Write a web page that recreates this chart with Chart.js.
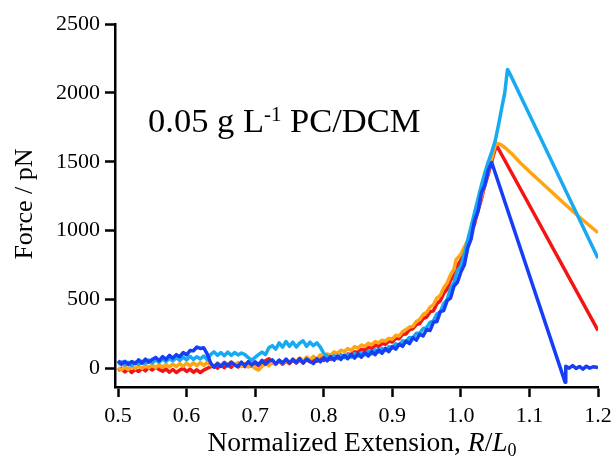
<!DOCTYPE html>
<html>
<head>
<meta charset="utf-8">
<script src="https://cdn.jsdelivr.net/npm/chart.js@4.4.0/dist/chart.umd.min.js"></script>
<style>
  body { margin: 0; background: #fff; }
  #chart { display: block; }
</style>
</head>
<body>
<canvas id="chart" width="615" height="462"></canvas>
<script>
// tick labels
const xTicks = [0.5, 0.6, 0.7, 0.8, 0.9, 1.0, 1.1, 1.2]
const yTicks = [0, 500, 1000, 1500, 2000, 2500]

// dark blue curve
const blueX = [0.500, 0.505, 0.510, 0.515, 0.520, 0.525, 0.530, 0.535, 0.540, 0.545, 0.550, 0.555, 0.560, 0.565, 0.570, 0.575, 0.580, 0.585, 0.590, 0.595,
  0.600, 0.605, 0.610, 0.615, 0.620, 0.625, 0.630, 0.635, 0.640, 0.645, 0.650, 0.655, 0.660, 0.665, 0.670, 0.675, 0.680, 0.685, 0.690, 0.695,
  0.700, 0.705, 0.710, 0.715, 0.720, 0.725, 0.730, 0.735, 0.740, 0.745, 0.750, 0.755, 0.760, 0.765, 0.770, 0.775, 0.780, 0.785, 0.790, 0.795,
  0.800, 0.805, 0.810, 0.815, 0.820, 0.825, 0.830, 0.835, 0.840, 0.845, 0.850, 0.855, 0.860, 0.865, 0.870, 0.875, 0.880, 0.885, 0.890, 0.895,
  0.900, 0.905, 0.910, 0.915, 0.920, 0.925, 0.930, 0.935, 0.940, 0.945, 0.950, 0.955, 0.960, 0.965, 0.970, 0.975, 0.980, 0.985, 0.990, 0.995,
  1.000, 1.005, 1.010, 1.015, 1.020, 1.025, 1.030, 1.035, 1.040, 1.045,
  1.152, 1.153, 1.158, 1.163, 1.168, 1.173, 1.178, 1.183, 1.188, 1.193, 1.200]
const blueY = [55, 30, 52, 28, 50, 35, 62, 38, 68, 45, 65, 80, 55, 85, 65, 95, 75, 100, 85, 115,
  98, 130, 128, 155, 145, 150, 105, 40, 8, 35, 15, 42, 20, 45, 25, 15, 45, 20, 50, 25,
  48, 28, 58, 30, 52, 62, 32, 60, 38, 68, 40, 65, 42, 72, 38, 68, 50, 35, 70, 48,
  78, 55, 85, 60, 90, 65, 95, 70, 102, 75, 105, 82, 115, 90, 122, 100, 135, 110, 145, 122,
  158, 140, 175, 160, 198, 180, 222, 205, 248, 235, 282, 275, 335, 340, 412, 420, 492, 510, 598, 625,
  700, 750, 875, 940, 1075, 1140, 1275, 1330, 1440, 1495,
  -100, 15, 2, 20, 0, 14, -5, 16, 2, 12, 6]

// light blue curve
const skyX = [0.500, 0.505, 0.510, 0.515, 0.520, 0.525, 0.530, 0.535, 0.540, 0.545, 0.550, 0.555, 0.560, 0.565, 0.570, 0.575, 0.580, 0.585, 0.590, 0.595,
  0.600, 0.605, 0.610, 0.615, 0.620, 0.625, 0.630, 0.635, 0.640, 0.645, 0.650, 0.655, 0.660, 0.665, 0.670, 0.675, 0.680, 0.685, 0.690, 0.695,
  0.700, 0.705, 0.710, 0.715, 0.720, 0.725, 0.730, 0.735, 0.740, 0.745, 0.750, 0.755, 0.760, 0.765, 0.770, 0.775, 0.780, 0.785, 0.790, 0.795,
  0.800, 0.805, 0.810, 0.815, 0.820, 0.825, 0.830, 0.835, 0.840, 0.845, 0.850, 0.855, 0.860, 0.865, 0.870, 0.875, 0.880, 0.885, 0.890, 0.895,
  0.900, 0.905, 0.910, 0.915, 0.920, 0.925, 0.930, 0.935, 0.940, 0.945, 0.950, 0.955, 0.960, 0.965, 0.970, 0.975, 0.980, 0.985, 0.990, 0.995,
  1.000, 1.005, 1.010, 1.015, 1.020, 1.025, 1.030, 1.035, 1.040, 1.045, 1.050, 1.055, 1.060, 1.064, 1.068, 1.071, 1.200]
const skyY = [30, 48, 25, 45, 22, 45, 30, 52, 35, 60, 40, 62, 45, 68, 50, 72, 55, 78, 58, 82,
  62, 88, 65, 85, 68, 90, 65, 100, 120, 95, 115, 92, 118, 95, 115, 98, 112, 100, 78, 60,
  80, 100, 118, 100, 150, 165, 140, 185, 155, 195, 160, 190, 155, 185, 200, 160, 190, 165, 185, 155,
  110, 90, 70, 92, 72, 98, 78, 102, 82, 108, 90, 115, 98, 125, 105, 135, 118, 145, 130, 158,
  150, 178, 168, 200, 195, 225, 222, 255, 255, 290, 295, 335, 345, 395, 410, 470, 500, 580, 625, 710,
  740, 830, 930, 1030, 1130, 1230, 1330, 1420, 1500, 1570, 1650, 1770, 1900, 2000, 2170, 2145, 800]

// orange curve
const orangeX = [0.500, 0.505, 0.510, 0.515, 0.520, 0.525, 0.530, 0.535, 0.540, 0.545, 0.550, 0.555, 0.560, 0.565, 0.570, 0.575, 0.580, 0.585, 0.590, 0.595,
  0.600, 0.605, 0.610, 0.615, 0.620, 0.625, 0.630, 0.635, 0.640, 0.645, 0.650, 0.655, 0.660, 0.665, 0.670, 0.675, 0.680, 0.685, 0.690, 0.695,
  0.700, 0.705, 0.710, 0.715, 0.720, 0.725, 0.730, 0.735, 0.740, 0.745, 0.750, 0.755, 0.760, 0.765, 0.770, 0.775, 0.780, 0.785, 0.790, 0.795,
  0.800, 0.805, 0.810, 0.815, 0.820, 0.825, 0.830, 0.835, 0.840, 0.845, 0.850, 0.855, 0.860, 0.865, 0.870, 0.875, 0.880, 0.885, 0.890, 0.895,
  0.900, 0.905, 0.910, 0.915, 0.920, 0.925, 0.930, 0.935, 0.940, 0.945, 0.950, 0.955, 0.960, 0.965, 0.970, 0.975, 0.980, 0.985, 0.990, 0.993,
  0.996, 1.000, 1.005, 1.010, 1.015, 1.020, 1.025, 1.030, 1.035, 1.040, 1.047, 1.051,
  1.058, 1.065, 1.075, 1.085, 1.100, 1.125, 1.150, 1.175, 1.200]
const orangeY = [5, -12, 10, -8, 15, -2, 18, 0, 22, 5, 25, 5, 28, 8, 30, 10, 32, 12, 35, 15,
  38, 18, 40, 20, 42, 22, 45, 25, 15, 40, 20, 45, 25, 48, 22, 42, 15, 35, 10, 25,
  0, -12, 15, 35, 18, 48, 28, 58, 35, 62, 40, 70, 48, 75, 52, 82, 60, 88, 68, 98,
  80, 105, 95, 120, 108, 132, 122, 145, 132, 158, 148, 170, 160, 182, 172, 195, 185, 205, 198, 218,
  212, 240, 235, 268, 282, 300, 305, 340, 355, 392, 405, 445, 462, 510, 530, 585, 620, 680, 720, 790,
  805, 830, 880, 930, 1005, 1070, 1160, 1250, 1340, 1430, 1560, 1635,
  1625, 1600, 1555, 1500, 1430, 1315, 1200, 1090, 985]

// red curve
const redX = [0.500, 0.505, 0.510, 0.515, 0.520, 0.525, 0.530, 0.535, 0.540, 0.545, 0.550, 0.555, 0.560, 0.565, 0.570, 0.575, 0.580, 0.585, 0.590, 0.595,
  0.600, 0.605, 0.610, 0.615, 0.620, 0.625, 0.630, 0.635, 0.640, 0.645, 0.650, 0.655, 0.660, 0.665, 0.670, 0.675, 0.680, 0.685, 0.690, 0.695,
  0.700, 0.705, 0.710, 0.715, 0.720, 0.725, 0.730, 0.735, 0.740, 0.745, 0.750, 0.755, 0.760, 0.765, 0.770, 0.775, 0.780, 0.785, 0.790, 0.795,
  0.800, 0.805, 0.810, 0.815, 0.820, 0.825, 0.830, 0.835, 0.840, 0.845, 0.850, 0.855, 0.860, 0.865, 0.870, 0.875, 0.880, 0.885, 0.890, 0.895,
  0.900, 0.905, 0.910, 0.915, 0.920, 0.925, 0.930, 0.935, 0.940, 0.945, 0.950, 0.955, 0.960, 0.965, 0.970, 0.975, 0.980, 0.985, 0.990, 0.995,
  1.000, 1.005, 1.010, 1.015, 1.020, 1.025, 1.030, 1.035, 1.040, 1.047, 1.052, 1.200]
const redY = [-15, 2, -25, -5, -30, -8, -22, 0, -18, 8, -12, 10, -8, -20, -5, -28, -8, -30, -12, 0,
  -22, -5, -28, -10, -30, -12, 0, 12, 20, 2, 25, 5, 28, 8, 30, 10, 32, 12, 35, 15,
  38, 18, 40, 55, 70, 42, 30, 52, 30, 55, 35, 60, 40, 62, 42, 65, 48, 70, 52, 75,
  58, 82, 65, 90, 72, 98, 82, 105, 100, 120, 118, 138, 132, 152, 145, 168, 160, 182, 175, 198,
  192, 218, 215, 248, 250, 282, 288, 318, 325, 362, 372, 410, 418, 470, 490, 545, 575, 640, 675, 745,
  785, 850, 905, 985, 1050, 1145, 1230, 1330, 1410, 1540, 1620, 276]

const toPoints = (xs, ys) => xs.map((x, i) => ({ x: x, y: ys[i] }))

const serif = '"Liberation Serif", "Times New Roman", serif'

// draw a run of text pieces (regular / italic / super / sub) from a start x
const drawRuns = (c, runs, x, y) => {
  runs.forEach(r => {
    c.font = r.font
    c.fillText(r.text, x, y + (r.dy || 0))
    x += c.measureText(r.text).width
  })
}
const runsWidth = (c, runs) => {
  let w = 0
  runs.forEach(r => {
    c.font = r.font
    w += c.measureText(r.text).width
  })
  return w
}

const textPlugin = {
  id: 'texts',
  afterDraw(chart) {
    const c = chart.ctx
    c.save()
    c.fillStyle = '#000'
    c.textBaseline = 'alphabetic'
    c.textAlign = 'left'

    // annotation in the plot
    drawRuns(c, [
      { text: '0.05 g L', font: `34.5px ${serif}` },
      { text: '-1', font: `21px ${serif}`, dy: -11 },
      { text: ' PC/DCM', font: `34.5px ${serif}` }
    ], 148, 132)

    // x axis title
    const xRuns = [
      { text: 'Normalized Extension, ', font: `27.5px ${serif}` },
      { text: 'R', font: `italic 27.5px ${serif}` },
      { text: '/', font: `27.5px ${serif}` },
      { text: 'L', font: `italic 27.5px ${serif}` },
      { text: '0', font: `18px ${serif}`, dy: 5 }
    ]
    drawRuns(c, xRuns, 362 - runsWidth(c, xRuns) / 2, 451)

    // y axis title
    c.translate(32, 204)
    c.rotate(-Math.PI / 2)
    c.font = `26px ${serif}`
    c.textAlign = 'center'
    c.fillText('Force / pN', 0, 0)
    c.restore()
  }
}

const axisGrid = {
  display: true,
  drawOnChartArea: false,
  drawTicks: true,
  tickLength: 10,
  tickWidth: 2.5,
  tickColor: '#000'
}

const ctx = document.getElementById('chart')
new Chart(ctx, {
  type: 'line',
  data: {
    datasets: [
      { label: 'blue', data: toPoints(blueX, blueY), borderColor: 'rgb(22, 62, 245)' },
      { label: 'sky', data: toPoints(skyX, skyY), borderColor: 'rgb(24, 170, 240)' },
      { label: 'orange', data: toPoints(orangeX, orangeY), borderColor: 'rgb(255, 165, 20)' },
      { label: 'red', data: toPoints(redX, redY), borderColor: 'rgb(245, 20, 20)' }
    ]
  },
  options: {
    responsive: false,
    animation: false,
    devicePixelRatio: 1,
    layout: { padding: { top: 24, right: 17, left: 0, bottom: 0 } },
    elements: {
      line: { borderWidth: 3.5, tension: 0, fill: false, borderJoinStyle: 'round' },
      point: { radius: 0 }
    },
    plugins: {
      legend: { display: false },
      tooltip: { enabled: false }
    },
    scales: {
      x: {
        type: 'linear',
        min: 0.4956,
        max: 1.2,
        afterBuildTicks: s => { s.ticks = xTicks.map(v => ({ value: v })) },
        afterFit: s => {
          s.height = 75
          s.paddingLeft = 0
          s.paddingRight = 0
        },
        ticks: {
          color: '#000',
          font: { family: serif, size: 22 },
          padding: 6,
          maxRotation: 0,
          callback: v => v.toFixed(1)
        },
        grid: axisGrid,
        border: { display: true, color: '#000', width: 2.5 }
      },
      y: {
        min: -135,
        max: 2500,
        afterBuildTicks: s => { s.ticks = yTicks.map(v => ({ value: v })) },
        afterFit: s => {
          s.width = 115
          s.paddingTop = 0
          s.paddingBottom = 0
        },
        ticks: {
          color: '#000',
          font: { family: serif, size: 22 },
          padding: 5,
          callback: v => String(v)
        },
        grid: axisGrid,
        border: { display: true, color: '#000', width: 2.5 }
      }
    }
  },
  plugins: [textPlugin]
})
</script>
</body>
</html>
